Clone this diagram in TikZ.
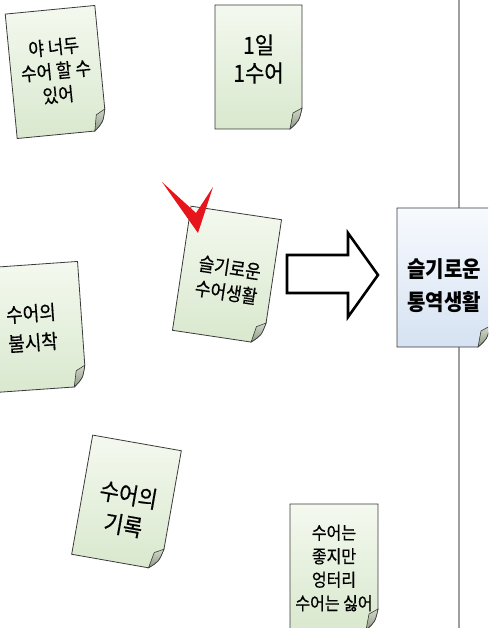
\documentclass[tikz,border=0pt]{standalone}
\usepackage{fontspec}
\newfontfamily\kr[BoldFont={Noto Sans CJK KR}, BoldFeatures={FakeBold=0.5}]{Noto Sans CJK KR}
\newfontfamily\krb{Noto Sans CJK KR}
\usetikzlibrary{calc}
\definecolor{pgtop}{HTML}{F4F9EF}
\definecolor{pgbot}{HTML}{D9E8CE}
\definecolor{bltop}{HTML}{F7FAFE}
\definecolor{blbot}{HTML}{D6E2F2}
\definecolor{flaptop}{HTML}{D2D8C8}
\definecolor{flapbot}{HTML}{8E9885}
\definecolor{edge}{HTML}{3A3A3A}
\definecolor{checkred}{HTML}{E8141C}
\tikzset{
  pageline/.style={draw=edge, line width=0.8pt},
  doctext/.style={align=center, text=black, inner sep=0pt},
  bigarrow/.style={draw=black, line width=2.6pt, fill=white, line join=miter},
}
\newcommand\paperdoc[7]{%
  \begin{scope}[shift={(#1)},rotate=#2]
    \pgfmathsetmacro\pw{#3/2}\pgfmathsetmacro\ph{#4/2}
    \coordinate (#7) at (0,0);
    \draw[pageline, top color=#5, bottom color=#6]
      (-\pw,-\ph) -- (\pw,-\ph) -- (\pw,\ph-21)
      .. controls (\pw-3,\ph-8) .. (\pw-12,\ph) -- (-\pw,\ph) -- cycle;
    \draw[pageline, line width=0.6pt, top color=flaptop, bottom color=flapbot]
      (\pw,\ph-21) -- (\pw-9,\ph-16) -- (\pw-12,\ph)
      .. controls (\pw-3,\ph-8) .. (\pw,\ph-21) -- cycle;
  \end{scope}}
\begin{document}
\begin{tikzpicture}[x=1pt,y=-1pt]
\useasboundingbox (0,0) rectangle (488,628);
\clip (0,0) rectangle (488,628);
\fill[white] (0,0) rectangle (488,628);
% vertical divider
\coordinate (vtop) at (459,0);
\coordinate (vbot) at (459,628);
\draw[gray!75, line width=1.5pt] (vtop) -- (vbot);
% green pages
\paperdoc{56,72}{5.5}{90}{125}{pgtop}{pgbot}{p1}
\node[doctext, rotate=5.5, yscale=1.12, font=\kr\bfseries\fontsize{17}{21.4}\selectfont] (t1) at (56,71) {야 너두\\수어 할 수\\있어};
\paperdoc{258.5,67}{0}{87}{124}{pgtop}{pgbot}{p2}
\node[doctext, yscale=1.12, font=\kr\bfseries\fontsize{21}{25}\selectfont] (t2) at (258.5,59) {1일\\1수어};
\paperdoc{227,275}{-8.5}{91.5}{125.5}{pgtop}{pgbot}{p3}
\node[doctext, rotate=-8.5, yscale=1.12, font=\kr\bfseries\fontsize{17}{22.3}\selectfont] (t3) at (228,280) {슬기로운\\수어생활};
\paperdoc{36,327}{4}{92}{125}{pgtop}{pgbot}{p4}
\node[doctext, rotate=4, yscale=1.12, font=\kr\bfseries\fontsize{18}{26}\selectfont] (t4) at (32,328) {수어의\\불시착};
\paperdoc{126.5,502.5}{-10}{90}{121}{pgtop}{pgbot}{p5}
\node[doctext, rotate=-10, yscale=1.12, font=\kr\bfseries\fontsize{21}{27.5}\selectfont] (t5) at (126,510) {수어의\\기록};
\paperdoc{334,567}{0}{88}{126}{pgtop}{pgbot}{p6}
\node[doctext, yscale=1.12, font=\kr\bfseries\fontsize{16}{21}\selectfont] (t6) at (334,568) {수어는\\좋지만\\엉터리\\수어는 싫어};
% blue page
\paperdoc{443.5,277.5}{0}{93}{139}{bltop}{blbot}{pb}
\node[doctext, yscale=1.12, font=\krb\bfseries\fontsize{20}{29.5}\selectfont] (tb) at (444,286) {슬기로운\\통역생활};
% check mark
\fill[checkred] (162,182) -- (198,233) -- (213,187) -- (196,213) -- cycle;
% block arrow
\draw[bigarrow] (287,255) -- (348,255) -- (348,233) -- (378,275) -- (348,317) -- (348,293) -- (287,293) -- cycle;
\end{tikzpicture}
\end{document}
